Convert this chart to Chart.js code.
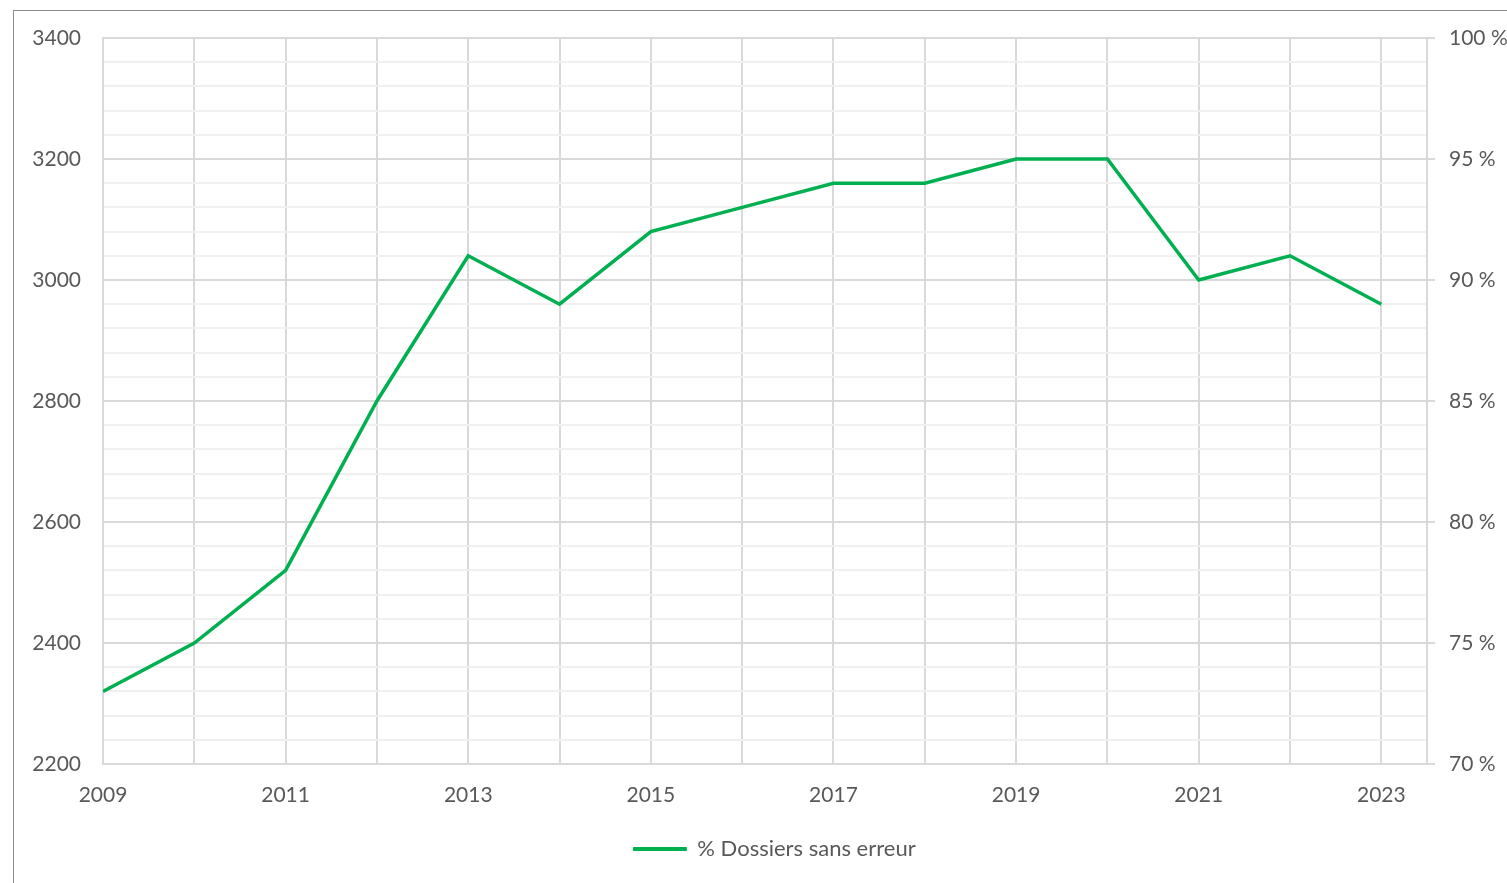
<!DOCTYPE html>
<html lang="fr">
<head>
    <meta charset="UTF-8">
    <title>% Dossiers sans erreur</title>
    <script src="https://cdn.jsdelivr.net/npm/chart.js@4.4.1/dist/chart.umd.min.js"></script>
    <style>
        html, body { margin: 0; padding: 0; background: #fff; overflow: hidden; }
        #cadre { position: absolute; left: 13px; top: 10px; width: 1700px; height: 1000px; border: 1px solid #8c8c8c; }
        #zone { position: absolute; left: 0; top: 0; width: 1507px; height: 883px; }
    </style>
</head>
<body>
    <div id="cadre"></div>
    <div id="zone">
        <canvas id="graphique" width="1507" height="883"></canvas>
    </div>
    <script>
        // Données
        var annees = [2009, 2010, 2011, 2012, 2013, 2014, 2015, 2016, 2017, 2018, 2019, 2020, 2021, 2022, 2023];
        var pctSansErreur = [73, 75, 78, 85, 91, 89, 92, 93, 94, 94, 95, 95, 90, 91, 89];
        var libelleSerie = '% Dossiers sans erreur';

        // Axe de gauche : 2200 à 3400, axe de droite : 70 % à 100 %
        var axeGauche = { min: 2200, max: 3400, pas: 200, sousPas: 40 };
        var axeDroite = { min: 70, max: 100, pas: 5, sousPas: 1 };

        var gris = '#595959';
        var grille = '#d9d9d9';
        var grilleFine = '#f0f0f0';
        var police = { family: 'Lato, "Open Sans", sans-serif', size: 21 };

        var points = annees.map(function (a, i) { return { x: a, y: pctSansErreur[i] }; });

        // décale la légende vers la droite, comme dans l'original
        var decalerLegende = {
            id: 'decalerLegende',
            afterLayout: function (chart) {
                chart.legend.left += 21;
                chart.legend.right += 21;
            }
        };

        var ctx = document.getElementById('graphique').getContext('2d');
        var graphique = new Chart(ctx, {
            type: 'line',
            data: {
                datasets: [{
                    label: libelleSerie,
                    data: points,
                    yAxisID: 'y1',
                    borderColor: '#00b050',
                    backgroundColor: '#00b050',
                    borderWidth: 3.5,
                    pointRadius: 0,
                    tension: 0
                }]
            },
            plugins: [decalerLegende],
            options: {
                responsive: false,
                animation: false,
                layout: { padding: { top: 38, bottom: 13, left: 0, right: 0 } },
                plugins: {
                    legend: {
                        position: 'bottom',
                        labels: {
                            color: gris,
                            font: { family: police.family, size: 22 },
                            boxWidth: 53,
                            boxHeight: 3,
                            generateLabels: function (chart) {
                                var items = Chart.defaults.plugins.legend.labels.generateLabels(chart);
                                items.forEach(function (it) { it.lineWidth = 1; });
                                return items;
                            }
                        }
                    },
                    tooltip: { enabled: false }
                },
                scales: {
                    x: {
                        type: 'linear',
                        min: annees[0],
                        max: annees[annees.length - 1] + 0.5,
                        afterFit: function (s) { s.height = 64; },
                        ticks: {
                            stepSize: 1,
                            includeBounds: false,
                            autoSkip: false,
                            maxRotation: 0,
                            color: gris,
                            font: police,
                            padding: 19,
                            callback: function (v) {
                                if (v % 1 !== 0 || (v - annees[0]) % 2 !== 0) return '';
                                return String(v);
                            }
                        },
                        grid: { color: grille, lineWidth: 2, drawTicks: false },
                        border: { color: grille, width: 2 }
                    },
                    y: {
                        position: 'left',
                        min: axeGauche.min,
                        max: axeGauche.max,
                        afterFit: function (s) { s.width = 103; },
                        ticks: {
                            stepSize: axeGauche.sousPas,
                            autoSkip: false,
                            color: gris,
                            font: police,
                            padding: 22,
                            callback: function (v) {
                                return v % axeGauche.pas === 0 ? String(v) : '';
                            }
                        },
                        grid: {
                            drawTicks: false,
                            lineWidth: 2,
                            color: function (c) {
                                return c.tick.value % axeGauche.pas === 0 ? grille : grilleFine;
                            }
                        },
                        border: { color: grille, width: 2 }
                    },
                    y1: {
                        position: 'right',
                        min: axeDroite.min,
                        max: axeDroite.max,
                        afterFit: function (s) { s.width = 80; },
                        ticks: {
                            stepSize: axeDroite.sousPas,
                            autoSkip: false,
                            color: gris,
                            font: police,
                            padding: 14,
                            callback: function (v) {
                                return v % axeDroite.pas === 0 ? v + ' %' : '';
                            }
                        },
                        grid: {
                            drawOnChartArea: false,
                            tickLength: 8,
                            lineWidth: 2,
                            tickColor: function (c) {
                                return c.tick.value % axeDroite.pas === 0 ? grille : 'rgba(0,0,0,0)';
                            }
                        },
                        border: { color: grille, width: 2 }
                    }
                }
            }
        });
    </script>
</body>
</html>
